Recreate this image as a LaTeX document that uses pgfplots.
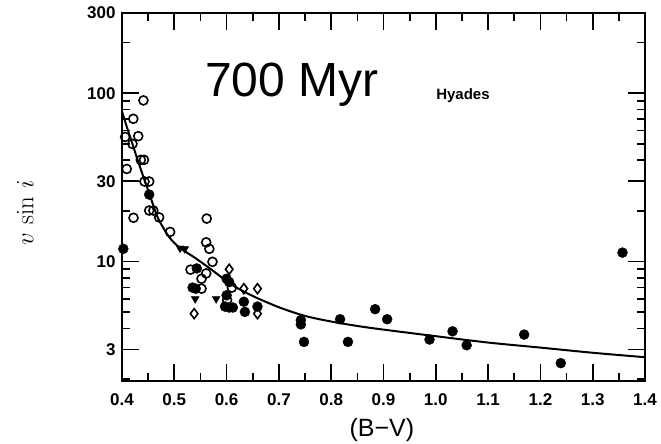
\documentclass[border=0pt]{standalone}
\usepackage{pgfplots}
\pgfplotsset{compat=1.18}
\usepackage[no-math]{fontspec}
\setmainfont{Liberation Sans}
\begin{document}
\begin{tikzpicture}
\begin{axis}[
  anchor=south west,
  scale only axis, width=523pt, height=368pt,
  ymode=log, xmin=0.4, xmax=1.4, ymin=1.95, ymax=300,
  axis line style={line width=2.2pt},
  tick style={line width=1.7pt, black},
  tick align=inside,
  major tick length=17pt, minor tick length=8pt,
  xtick={0.4,0.5,0.6,0.7,0.8,0.9,1.0,1.1,1.2,1.3,1.4},
  xticklabels={0.4,0.5,0.6,0.7,0.8,0.9,1.0,1.1,1.2,1.3,1.4},
  minor xtick={0.45,0.55,0.65,0.75,0.85,0.95,1.05,1.15,1.25,1.35},
  ytick={3,10,30,100,300},
  yticklabels={3,10,30,100,300},
  minor ytick={2,4,5,6,7,8,9,20,40,50,60,70,80,90,200},
  ticklabel style={font=\bfseries\fontsize{17pt}{17pt}\selectfont},
  xticklabel style={yshift=-9pt},
  yticklabel style={xshift=-3pt},
  xlabel={(B−V)},
  xlabel style={font=\fontsize{25pt}{25pt}\selectfont, at={(axis description cs:0.497,-0.133)}, anchor=center},
  ylabel={$v\,\sin\,i$},
  ylabel style={font=\fontsize{29pt}{29pt}\selectfont, at={(axis description cs:-0.185,0.457)}, anchor=center},
]
\addplot[smooth, line width=2pt, black] coordinates {
(0.40,78) (0.41,62) (0.42,50) (0.43,40) (0.44,32.5) (0.45,26.5) (0.46,21.5)
(0.47,17.8) (0.49,14.0) (0.51,12.1) (0.54,10.5) (0.57,9.0) (0.61,7.28)
(0.65,6.24) (0.70,5.35) (0.75,4.75) (0.80,4.40) (0.85,4.14) (0.90,3.94)
(1.0,3.60) (1.1,3.30) (1.2,3.08) (1.3,2.87) (1.4,2.70)};
\addplot[only marks, mark=o, mark size=4.5pt, line width=1.6pt, black] coordinates {
(0.441,90.7) (0.4216,70.5) (0.431,55.6) (0.406,55) (0.420,50)
(0.436,40.2) (0.442,40.2) (0.409,35.5) (0.443,29.9) (0.452,29.9)
(0.452,20.1) (0.460,20.1) (0.471,18.3) (0.422,18.2) (0.492,15.0)
(0.562,18.0) (0.561,13.0) (0.567,11.9) (0.573,9.96) (0.531,8.95)
(0.561,8.5) (0.552,7.9) (0.610,7.0) (0.552,6.9) (0.601,5.9)};
\addplot[only marks, mark=*, mark size=5pt, black] coordinates {
(0.452,25) (0.4025,11.9) (0.543,9.1) (0.600,7.9) (0.605,7.55) (0.535,7.0)
(0.541,6.9) (0.600,6.3) (0.597,5.4) (0.605,5.33) (0.612,5.33) (0.633,5.77)
(0.635,5.02) (0.659,5.4) (0.742,4.49) (0.742,4.23) (0.748,3.33) (0.817,4.54)
(0.832,3.33) (0.884,5.21) (0.907,4.54) (0.988,3.44) (1.032,3.85) (1.059,3.18)
(1.169,3.68) (1.239,2.49) (1.357,11.3)};
\addplot[only marks, mark=diamond, mark size=5pt, line width=1.6pt, black] coordinates {
(0.605,9.0) (0.633,6.9) (0.659,6.9) (0.538,4.9) (0.659,4.9)};
\addplot[only marks, mark=triangle*, every mark/.append style={rotate=180}, mark size=4.5pt, black] coordinates {
(0.540,6.0) (0.580,6.0) (0.511,12.0) (0.520,11.9)};
\node[font=\fontsize{48pt}{48pt}\selectfont] at (axis cs:0.725,113) {700 Myr};
\node[font=\bfseries\fontsize{15pt}{15pt}\selectfont] at (axis cs:1.052,97) {Hyades};
\end{axis}
\pgfresetboundingbox
\path[use as bounding box] (-122pt,-63pt) rectangle (539pt,381pt);
\end{tikzpicture}
\end{document}
